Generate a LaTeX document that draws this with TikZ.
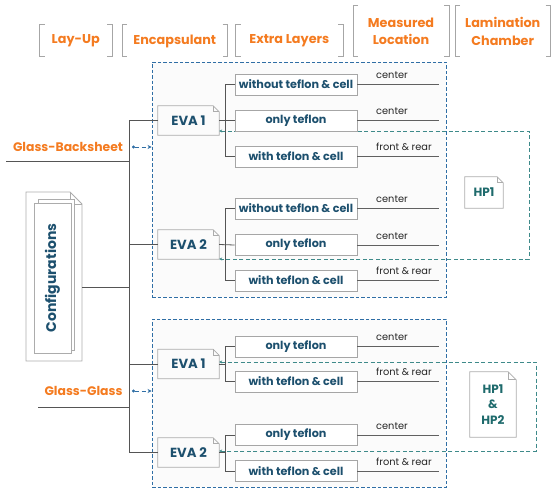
\documentclass[tikz,border=0pt]{standalone}
\usepackage{fontspec}
\setmainfont{Poppins}
\usetikzlibrary{arrows.meta,calc,shadows}
\definecolor{hdorange}{HTML}{F47B20}
\definecolor{navytxt}{HTML}{1D506E}
\definecolor{hptxt}{HTML}{1E6A6C}
\definecolor{boxblue}{HTML}{2F6EA5}
\definecolor{loopteal}{HTML}{3E8A8A}
\definecolor{wiregray}{HTML}{555555}

\tikzset{
  head/.style={font=\bfseries\fontsize{12.8}{17.5}\selectfont, text=hdorange, align=center, inner sep=0pt},
  bracket/.style={draw=gray!70, line width=0.8pt},
  bluebox/.style={draw=boxblue, fill=gray!3, line width=0.9pt, dash pattern=on 3.5pt off 2pt},
  hploop/.style={draw=loopteal, line width=0.9pt, dash pattern=on 4pt off 2.5pt},
  bluearrow/.style={draw=boxblue, line width=0.9pt, dash pattern=on 4pt off 3pt, {Circle[length=3pt]}-{Stealth[length=4pt,width=4pt]}},
  wire/.style={draw=wiregray, line width=0.8pt},
  mline/.style={draw=gray!75!black, line width=0.8pt},
  leaf/.style={draw=gray!70, fill=white, line width=0.7pt, minimum width=122, minimum height=21, inner sep=0pt,
    font=\bfseries\fontsize{11.2}{13}\selectfont, text=navytxt,
    drop shadow={shadow xshift=0.8pt, shadow yshift=-0.8pt, fill=gray!60, opacity=1}},
  eva/.style={minimum width=61, minimum height=29, inner sep=0pt, font=\bfseries\fontsize{13.2}{15}\selectfont, text=navytxt},
  hpdoc/.style={inner sep=0pt, font=\bfseries\fontsize{12}{15.5}\selectfont, text=hptxt, align=center},
  docline/.style={draw=gray!65, line width=0.8pt},
  meas/.style={font=\fontsize{9.8}{12}\selectfont, text=black!85, inner sep=0pt, anchor=south west},
  side/.style={font=\bfseries\fontsize{12.4}{15}\selectfont, text=hdorange, inner sep=0pt},
}

\begin{document}
\begin{tikzpicture}[x=1pt,y=-1pt]
\useasboundingbox (0,0) rectangle (553,488);

% column heads
\foreach \l/\r/\t/\txt [count=\i] in {39.5/112/24/Lay-Up, 122/227.5/24/Encapsulant, 235.6/343/24/Extra Layers,
    353/449/5/{Measured\\Location}, 455/550.5/5/{Lamination\\Chamber}}{
  \draw[bracket] (\l+5,\t) -- (\l,\t) -- (\l,56) -- (\l+5,56);
  \draw[bracket] (\r-5,\t) -- (\r,\t) -- (\r,56) -- (\r-5,56);
  \node[head] (h\i) at ({(\l+\r)/2},{(\t+56)/2+1}) {\txt};
}

% dashed groups
\node[bluebox, minimum width=294, minimum height=235] (gbbox) at (299,179.5) {};
\node[bluebox, minimum width=294, minimum height=168] (ggbox) at (299,403) {};

% configurations stack
\draw[docline] (26,192) -- (70,192) -- (82,204) -- (82,361) -- (26,361) -- cycle;
\draw[docline] (70,192) |- (82,204);
\draw[docline, fill=white] (38,199) rectangle (74,350);
\node[draw=gray!65, fill=white, line width=0.8pt, rotate=90, minimum width=150, minimum height=37, inner sep=0pt,
  font=\bfseries\fontsize{14}{16}\selectfont, text=navytxt] (cfg) at (52.5,278) {Configurations};

% encapsulant nodes
\node[eva] (gb1) at (188.5,120.5) {EVA 1};
\node[eva] (gb2) at (188.5,244.5) {EVA 2};
\node[eva] (gg1) at (188.5,364) {EVA 1};
\node[eva] (gg2) at (188.5,452.5) {EVA 2};

% lamination chamber
\node[hpdoc, minimum width=38, minimum height=31] (hpa) at (484,192.5) {HP1};
\node[hpdoc, minimum width=46, minimum height=65] (hpb) at (493,404.5) {HP1\\\&\\HP2};

\foreach \n/\f in {gb1/6,gb2/6,gg1/6,gg2/6,hpa/6,hpb/8}{
  \draw[docline] (\n.south west) -- (\n.north west) -- ([xshift=-\f*1pt]\n.north east)
    -- ([yshift=-\f*1pt]\n.north east) -- (\n.south east) -- cycle;
  \draw[docline] ([xshift=-\f*1pt]\n.north east) |- ([yshift=-\f*1pt]\n.north east);
}

\coordinate (hpA1) at (529,131);
\coordinate (hpA2) at (529,259);
\coordinate (hpB1) at (536,362);
\coordinate (hpB2) at (536,451);
\draw[hploop, {Stealth[length=3pt,width=3pt]}-{Stealth[length=3pt,width=3pt]}]
  (gb1.east |- hpA1) -- (hpA1) -- (hpA2) -- (gb2.east |- hpA2);
\draw[hploop, {Stealth[length=3pt,width=3pt]}-{Stealth[length=3pt,width=3pt]}]
  (gg1.east |- hpB1) -- (hpB1) -- (hpB2) -- (gg2.east |- hpB2);

% extra layers
\foreach \n/\y/\t in {gb1a/84.5/without teflon \& cell, gb1b/120.5/only teflon, gb1c/156.5/with teflon \& cell,
    gb2a/208.5/without teflon \& cell, gb2b/245/only teflon, gb2c/280.5/with teflon \& cell,
    gg1a/346.5/only teflon, gg1b/381.5/with teflon \& cell,
    gg2a/435/only teflon, gg2b/471/with teflon \& cell}{
  \node[leaf] (\n) at (296,\y) {\t};
}

% lay-up tree
\coordinate (tr) at (129,0);
\coordinate (gbu) at (6,161);
\coordinate (ggu) at (38,407);
\coordinate (cfgout) at (82,287);
\node[side] (gbl) at (68,147) {Glass-Backsheet};
\node[side] (ggl) at (83.5,391) {Glass-Glass};
\draw[wire] (gb1.west) -- (gb1.west -| tr) -- (gg2.west -| tr) -- (gg2.west);
\draw[wire] (gb2.west) -- (gb2.west -| tr);
\draw[wire] (gg1.west) -- (gg1.west -| tr);
\draw[wire] (gbu) -- (gbu -| tr);
\draw[wire] (ggu) -- (ggu -| tr);
\draw[wire] (cfgout) -- (cfgout -| tr);

\coordinate (gbd) at (132,147);
\coordinate (ggd) at (132,391);
\draw[bluearrow] (gbd) -- (gbd -| gbbox.west);
\draw[bluearrow] (ggd) -- (ggd -| ggbox.west);

% branches
\draw[wire] (gb1.east) -- (gb1b.west);
\draw[wire] (gb1a.west) -- ++(-9,0) |- (gb1c.west);
\draw[wire] (gb2.east) -- (gb2b.west);
\draw[wire] (gb2a.west) -- ++(-9,0) |- (gb2c.west);
\draw[wire] (gg1.east) -- ++(7,0);
\draw[wire] (gg1a.west) -- ++(-9,0) |- (gg1b.west);
\draw[wire] (gg2.east) -- ++(7,0);
\draw[wire] (gg2a.west) -- ++(-9,0) |- (gg2b.west);

% measured location
\coordinate (ml) at (439,0);
\coordinate (lb) at (376,0);
\foreach \n/\t in {gb1a/center, gb1b/center, gb1c/front \& rear, gb2a/center, gb2b/center, gb2c/front \& rear,
    gg1a/center, gg1b/front \& rear, gg2a/center, gg2b/front \& rear}{
  \draw[mline] (\n.east) -- (\n.east -| ml);
  \node[meas] (m\n) at ($(\n.east -| lb)+(0,-5.5)$) {\t};
}
\end{tikzpicture}
\end{document}
